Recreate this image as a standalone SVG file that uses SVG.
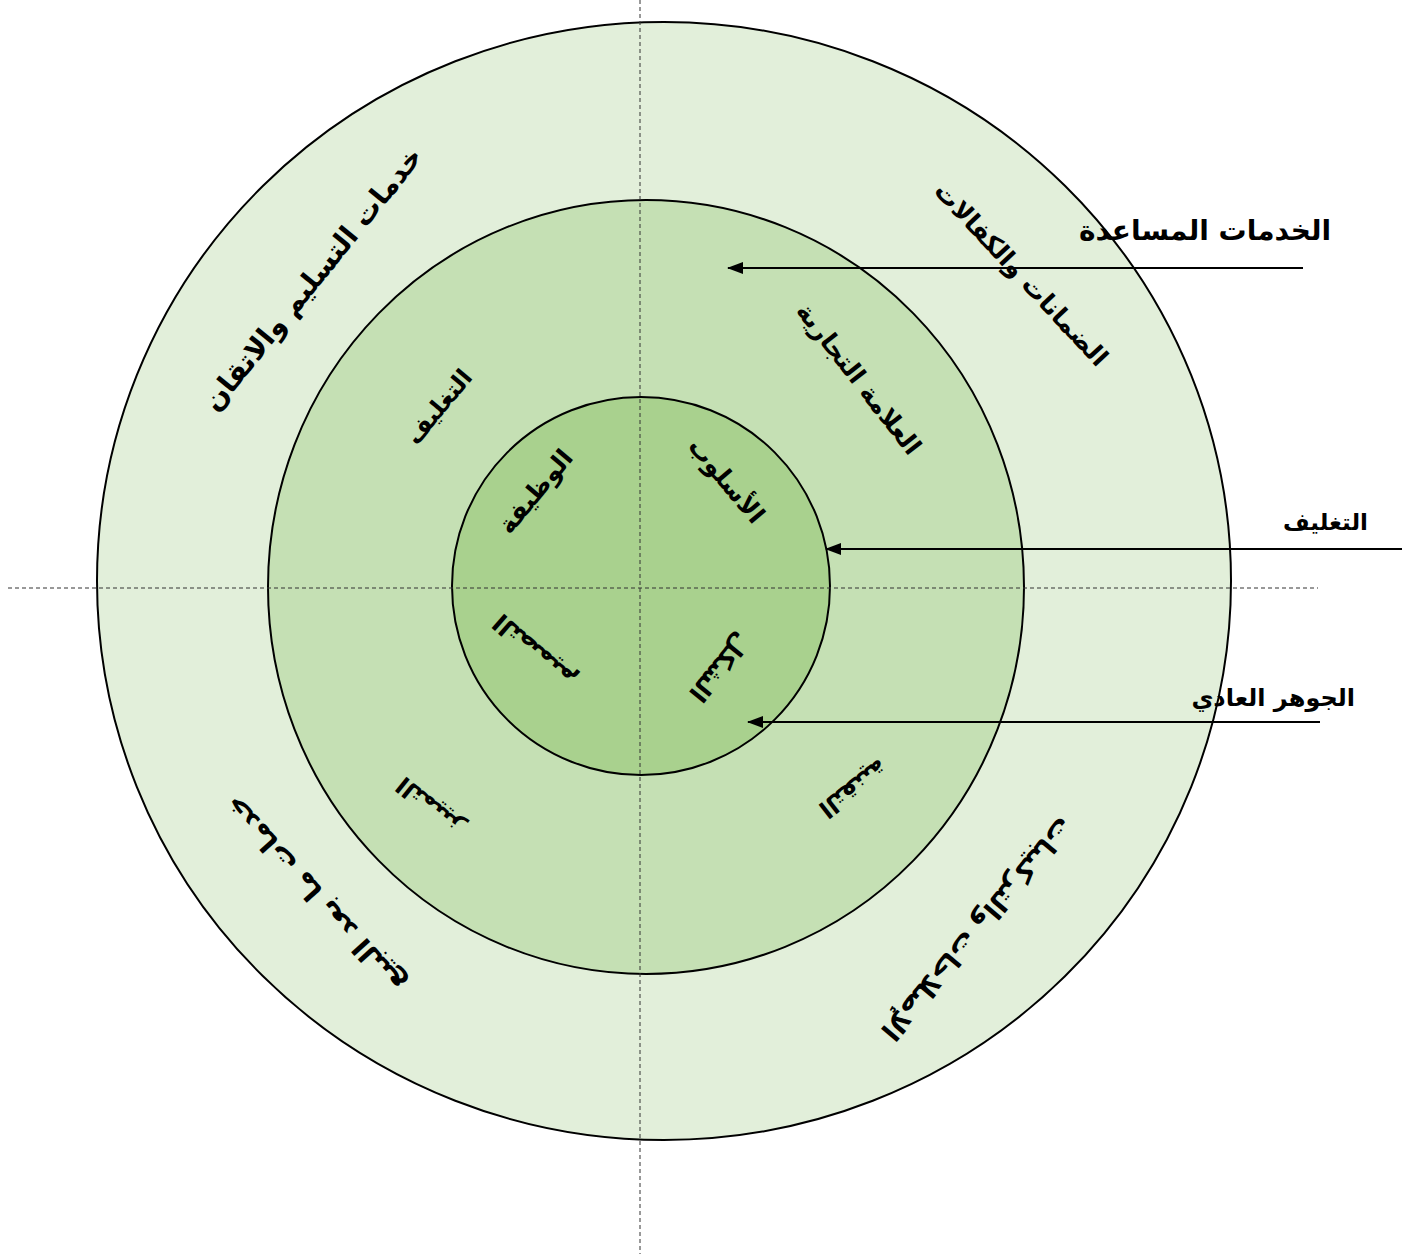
<svg xmlns="http://www.w3.org/2000/svg" width="1412" height="1254" viewBox="0 0 1412 1254">
<style>
.ring{stroke:#000;stroke-width:2}
.lbl{font-family:"DejaVu Sans",sans-serif;font-weight:bold;fill:#000;text-anchor:middle}
.side{font-family:"DejaVu Sans",sans-serif;font-weight:bold;fill:#000;text-anchor:end}
.dash{stroke:#333;stroke-width:1;stroke-dasharray:4 3;fill:none}
.arr{stroke:#000;stroke-width:2;fill:none;marker-end:url(#ah)}
</style>
<defs>
<marker id="ah" viewBox="0 0 16 12" refX="15" refY="6" markerWidth="16" markerHeight="12" markerUnits="userSpaceOnUse" orient="auto">
<path d="M0,0 L16,6 L0,12 z" fill="#000"/>
</marker>
</defs>
<rect width="1412" height="1254" fill="#fff"/>
<g id="outer"><ellipse class="ring" cx="664" cy="581" rx="567" ry="559" fill="#E2EFDA"/></g>
<g id="middle"><ellipse class="ring" cx="646" cy="587" rx="378" ry="387" fill="#C5E0B4"/></g>
<g id="inner"><circle class="ring" cx="641" cy="586" r="189" fill="#A9D18E"/></g>
<g id="axes">
<line class="dash" x1="640" y1="0" x2="640" y2="1254"/>
<line class="dash" x1="8" y1="588" x2="1318" y2="588"/>
</g>
<g id="labels-outer">
<text class="lbl" font-size="28" transform="translate(320,285) rotate(-51)">خدمات التسليم والاتقان</text>
<text class="lbl" font-size="25" transform="translate(1015,280) rotate(47)">الضمانات والكفالات</text>
<text class="lbl" font-size="28" transform="translate(322,888) rotate(228)">خدمات ما بعد البيع</text>
<text class="lbl" font-size="27" transform="translate(970,923) rotate(130)">الإصلاحات والتركيبات</text>
</g>
<g id="labels-middle">
<text class="lbl" font-size="24" transform="translate(445,412) rotate(-50)">التغليف</text>
<text class="lbl" font-size="25" transform="translate(852,384) rotate(52)">العلامة التجارية</text>
<text class="lbl" font-size="24" transform="translate(435,800) rotate(219)">التمييز</text>
<text class="lbl" font-size="24" transform="translate(848,782) rotate(142)">التقنية</text>
</g>
<g id="labels-inner">
<text class="lbl" font-size="25" transform="translate(542,497) rotate(-50)">الوظيفة</text>
<text class="lbl" font-size="25" transform="translate(720,486) rotate(50)">الأسلوب</text>
<text class="lbl" font-size="25" transform="translate(540,645) rotate(221)">التصميم</text>
<text class="lbl" font-size="25" transform="translate(713,662) rotate(129)">الشكل</text>
</g>
<g id="connectors">
<line class="arr" x1="1303" y1="268" x2="728" y2="268"/>
<line class="arr" x1="1402" y1="549" x2="826" y2="549"/>
<line class="arr" x1="1320" y1="722" x2="748" y2="722"/>
</g>
<g id="side-labels">
<text class="side" font-size="28" x="1331" y="240">الخدمات المساعدة</text>
<text class="side" font-size="23" x="1368" y="530">التغليف</text>
<text class="side" font-size="24" x="1355" y="706">الجوهر العادي</text>
</g>
</svg>
